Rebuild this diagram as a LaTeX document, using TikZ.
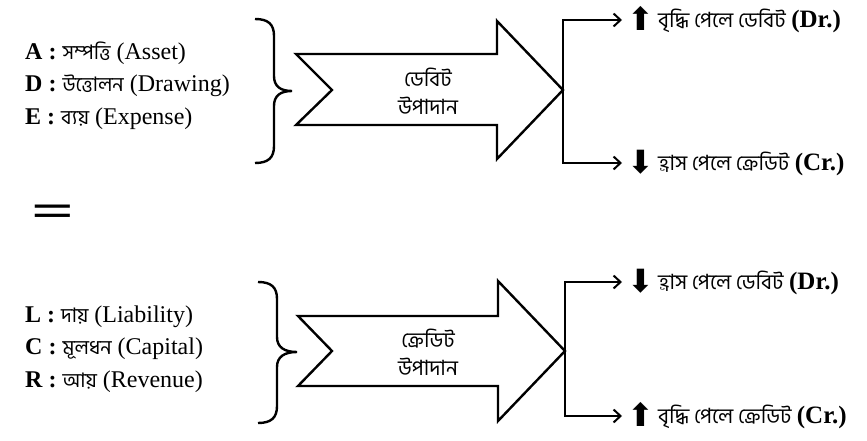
\documentclass[tikz,border=0pt]{standalone}
\usepackage{fontspec}
\setmainfont{Liberation Serif}
\newfontfamily\bn[Script=Bengali]{Hind Siliguri}
\newfontfamily\sym{DejaVu Sans}
\usetikzlibrary{arrows.meta}
\tikzset{
  lefttext/.style={anchor=west,inner sep=0pt,font=\fontsize{24}{28}\selectfont},
  righttext/.style={anchor=west,inner sep=0pt,font=\fontsize{22}{26}\selectfont},
  midtext/.style={align=center,inner sep=0pt,font=\bn\fontsize{21}{28}\selectfont},
  bigarrow/.style={line width=2.4pt,line join=miter},
  bracestyle/.style={line width=2.4pt},
  conn/.style={line width=2pt,-{Straight Barb[length=7pt,width=13pt,line width=2pt]}},
}
\newcommand{\bnt}[1]{{\bn\fontsize{20}{22}\selectfont #1}}
\newcommand{\bnr}[1]{{\bn\fontsize{21}{24}\selectfont #1}}
\newcommand{\upar}{\raisebox{-3pt}{\sym\fontsize{32}{32}\selectfont ⬆}}
\newcommand{\dnar}{\raisebox{-3pt}{\sym\fontsize{32}{32}\selectfont ⬇}}
\newcommand{\abbr}[1]{{\fontsize{25}{25}\selectfont\bfseries #1}}
\begin{document}
\begin{tikzpicture}[x=1pt,y=-1pt]
\useasboundingbox (0,0) rectangle (867,441);
% ---------- top block ----------
\node[lefttext] (A) at (25,53) {\textbf{A :} \bnt{সম্পত্তি} (Asset)};
\node[lefttext] (D) at (25,86) {\textbf{D :} \bnt{উত্তোলন} (Drawing)};
\node[lefttext] (E) at (25,119) {\textbf{E :} \bnt{ব্যয়} (Expense)};
\draw[bracestyle] (255,19) .. controls (268,19) and (274,24) .. (274,36) -- (274,76)
  .. controls (274,86) and (280,91) .. (292,91)
  .. controls (280,91) and (274,96) .. (274,106) -- (274,146)
  .. controls (274,158) and (268,163) .. (255,163);
\draw[bigarrow] (296,54) -- (497,54) -- (497,21) -- (563,90) -- (497,159) -- (497,125) -- (296,125) -- (332,90) -- cycle;
\coordinate (tipA) at (563,90);
\node[midtext] (dlab) at (428,91) {ডেবিট\\উপাদান};
\node[righttext] (r1) at (627,20) {\upar\hspace{4pt}\bnr{বৃদ্ধি পেলে ডেবিট} \abbr{(Dr.)}};
\node[righttext] (r2) at (627,163) {\dnar\hspace{4pt}\bnr{হ্রাস পেলে ক্রেডিট} \abbr{(Cr.)}};
\draw[conn] (tipA) |- ([xshift=-5pt]r1.west);
\draw[conn] (tipA) |- ([xshift=-5pt]r2.west);
% ---------- equals ----------
\node[inner sep=0pt,font=\fontsize{46}{46}\selectfont\bfseries] (eq) at (53,216) {\scalebox{1.64}[1]{=}};
% ---------- bottom block ----------
\node[lefttext] (L) at (25,317) {\textbf{L :} \bnt{দায়} (Liability)};
\node[lefttext] (C) at (25,349) {\textbf{C :} \bnt{মূলধন} (Capital)};
\node[lefttext] (R) at (25,382) {\textbf{R :} \bnt{আয়} (Revenue)};
\draw[bracestyle] (258,282) .. controls (271,282) and (277,287) .. (277,299) -- (277,337)
  .. controls (277,347) and (284,352) .. (297,352)
  .. controls (284,352) and (277,357) .. (277,367) -- (277,406)
  .. controls (277,418) and (271,423) .. (258,423);
\draw[bigarrow] (298,316) -- (498,316) -- (498,281) -- (565,351) -- (498,421) -- (498,386) -- (298,386) -- (332,351) -- cycle;
\coordinate (tipB) at (565,351);
\node[midtext] (clab) at (428,352) {ক্রেডিট\\উপাদান};
\node[righttext] (r3) at (627,282) {\dnar\hspace{4pt}\bnr{হ্রাস পেলে ডেবিট} \abbr{(Dr.)}};
\node[righttext] (r4) at (627,416) {\upar\hspace{4pt}\bnr{বৃদ্ধি পেলে ক্রেডিট} \abbr{(Cr.)}};
\draw[conn] (tipB) |- ([xshift=-5pt]r3.west);
\draw[conn] (tipB) |- ([xshift=-5pt]r4.west);
\end{tikzpicture}
\end{document}
